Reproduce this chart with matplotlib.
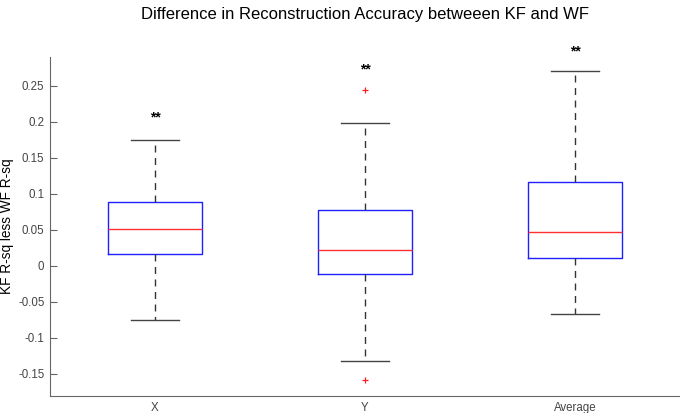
import matplotlib
matplotlib.use("Agg")
import matplotlib.pyplot as plt

plt.rcParams['font.family'] = ['Liberation Sans', 'DejaVu Sans']

# box statistics
labels = ["X", "Y", "Average"]
q1 = [0.016, -0.011, 0.0106]
med = [0.051, 0.022, 0.047]
q3 = [0.089, 0.0773, 0.1167]
whislo = [-0.075, -0.1315, -0.0667]
whishi = [0.175, 0.198, 0.270]
outliers = [[], [0.2435, -0.158], []]
star_y = [0.2065, 0.273, 0.2976]

stats = []
for i in range(len(labels)):
    stats.append(dict(label=labels[i], q1=q1[i], med=med[i], q3=q3[i],
                      whislo=whislo[i], whishi=whishi[i], fliers=outliers[i]))

fig = plt.figure(figsize=(6.8, 4.13), dpi=100)
ax = fig.add_axes([50/680, 1-396/413, 630/680, 339/413])

ax.bxp(stats, positions=[1, 2, 3], widths=0.45, showfliers=True,
       boxprops=dict(color="#2020ff", linewidth=1.0),
       medianprops=dict(color="#ff3030", linewidth=1.0),
       whiskerprops=dict(color="#333333", linewidth=1.0, linestyle=(0, (5, 4))),
       capprops=dict(color="#444444", linewidth=1.0),
       flierprops=dict(marker="+", markeredgecolor="#ff2020", markersize=5,
                       markeredgewidth=0.9, linestyle="none"))

for i in range(len(labels)):
    ax.text(i+1, star_y[i], "**", ha="center", va="center", fontsize=10,
            fontweight="bold", clip_on=False)

ax.set_xlim(0.5, 3.5)
ax.set_ylim(-0.1806, 0.290)
ax.set_yticks([-0.15, -0.1, -0.05, 0, 0.05, 0.1, 0.15, 0.2, 0.25])
ax.set_yticklabels(["-0.15", "-0.1", "-0.05", "0", "0.05", "0.1", "0.15", "0.2", "0.25"])
ax.spines["top"].set_visible(False)
ax.spines["right"].set_visible(False)
for s in ["left", "bottom"]:
    ax.spines[s].set_color("#666666")
ax.tick_params(axis="y", direction="in", length=5, color="#666666",
               labelcolor="#444444", labelsize=8.3, pad=4)
ax.tick_params(axis="x", length=0, labelcolor="#444444", labelsize=8.3, pad=4)
ax.set_ylabel("KF R-sq less WF R-sq", fontsize=9.8, labelpad=3)
fig.text(0.5+25/680, 1-14/413, "Difference in Reconstruction Accuracy betweeen KF and WF",
         ha="center", va="center", fontsize=12)

fig.savefig("out.png", dpi=100)
